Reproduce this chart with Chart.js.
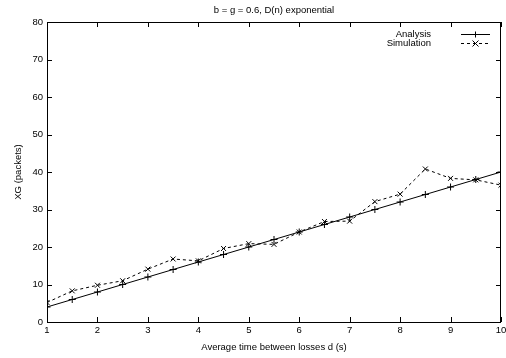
<!DOCTYPE html>
<html>
<head>
<meta charset="utf-8">
<script src="https://cdn.jsdelivr.net/npm/chart.js@4"></script>
<style>
  html, body { margin: 0; padding: 0; background: #fff; }
  #wrap { width: 506px; height: 358px; }
</style>
</head>
<body>
<div id="wrap"><canvas id="myChart" width="506" height="358"></canvas></div>
<script>
// x values: average time between losses d (s)
const dValues = [1, 1.5, 2, 2.5, 3, 3.5, 4, 4.5, 5, 5.5, 6, 6.5, 7, 7.5, 8, 8.5, 9, 9.5, 10];
const analysis = [4, 6, 8, 10, 12, 14, 16, 18, 20, 22, 24, 26, 28, 30, 32, 34, 36, 38, 40];
const simulation = [5.2, 8.3, 9.8, 11.0, 14.1, 16.8, 16.3, 19.6, 20.9, 20.7, 24.0, 26.8, 26.9, 32.1, 34.1, 40.8, 38.3, 37.9, 36.5];
const xTicks = [1, 2, 3, 4, 5, 6, 7, 8, 9, 10];
const yTicks = [0, 10, 20, 30, 40, 50, 60, 70, 80];
const seriesNames = ['Analysis', 'Simulation'];
const chartTitle = 'b = g = 0.6, D(n) exponential';

const FONT = 'Liberation Sans, Arial, Helvetica, sans-serif';
const FSIZE = 9.5;

const toPoints = (ys) => dValues.map((x, i) => ({ x: x, y: ys[i] }));

// gnuplot-ish frame: box border, inward ticks on all four sides, title + legend
const framePlugin = {
    id: 'frame',
    afterDatasetsDraw(chart) {
        const { ctx, chartArea: a, scales } = chart;
        ctx.save();
        ctx.strokeStyle = '#000';
        ctx.lineWidth = 1;
        ctx.beginPath();
        xTicks.forEach(v => {
            const px = Math.round(scales.x.getPixelForValue(v)) + 0.5;
            ctx.moveTo(px, a.bottom); ctx.lineTo(px, a.bottom - 5);
            ctx.moveTo(px, a.top); ctx.lineTo(px, a.top + 5);
        });
        yTicks.forEach(v => {
            const py = Math.round(scales.y.getPixelForValue(v)) + 0.5;
            ctx.moveTo(a.left, py); ctx.lineTo(a.left + 5, py);
            ctx.moveTo(a.right, py); ctx.lineTo(a.right - 5, py);
        });
        ctx.stroke();
        ctx.strokeRect(Math.round(a.left) + 0.5, Math.round(a.top) + 0.5,
            Math.round(a.right - a.left) - 1, Math.round(a.bottom - a.top));

        ctx.font = FSIZE + 'px ' + FONT;
        ctx.fillStyle = '#000';
        ctx.textBaseline = 'middle';

        // title, centred over the plot area
        ctx.textAlign = 'center';
        ctx.fillText(chartTitle, (a.left + a.right) / 2, 10);

        // legend
        ctx.textAlign = 'right';
        const rows = [34, 43];
        chart.data.datasets.forEach((ds, i) => {
            const y = rows[i] + 0.5;
            ctx.fillText(seriesNames[i], 431, rows[i]);
            ctx.beginPath();
            ctx.setLineDash(ds.borderDash || []);
            ctx.moveTo(461, y); ctx.lineTo(490, y);
            ctx.stroke();
            ctx.setLineDash([]);
            ctx.beginPath();
            const cx = 475.5, r = 3;
            if (ds.pointStyle === 'cross') {
                ctx.moveTo(cx - r, y); ctx.lineTo(cx + r, y);
                ctx.moveTo(cx, y - r); ctx.lineTo(cx, y + r);
            } else {
                ctx.moveTo(cx - r, y - r); ctx.lineTo(cx + r, y + r);
                ctx.moveTo(cx - r, y + r); ctx.lineTo(cx + r, y - r);
            }
            ctx.stroke();
        });
        ctx.restore();
    }
};

const ctx = document.getElementById('myChart').getContext('2d');
const myChart = new Chart(ctx, {
    type: 'line',
    data: {
        datasets: [{
            label: seriesNames[0],
            data: toPoints(analysis),
            borderColor: '#000',
            borderWidth: 1,
            pointStyle: 'cross',
            pointRadius: 3.5,
            pointBorderColor: '#000',
            pointBorderWidth: 1,
            fill: false,
            tension: 0
        }, {
            label: seriesNames[1],
            data: toPoints(simulation),
            borderColor: '#000',
            borderWidth: 1,
            borderDash: [3, 3],
            pointStyle: 'crossRot',
            pointRadius: 3.5,
            pointBorderColor: '#000',
            pointBorderWidth: 1,
            fill: false,
            tension: 0
        }]
    },
    options: {
        responsive: false,
        animation: false,
        layout: { padding: { left: 0, right: 4, top: 22, bottom: 0 } },
        plugins: {
            legend: { display: false },
            tooltip: { enabled: false },
            title: { display: false }
        },
        scales: {
            x: {
                type: 'linear',
                min: 1,
                max: 10,
                afterFit: (s) => { s.height = 36; s.paddingLeft = 0; s.paddingRight = 0; },
                afterBuildTicks: (s) => { s.ticks = xTicks.map(v => ({ value: v })); },
                grid: { display: false, drawTicks: false },
                border: { display: false },
                ticks: {
                    color: '#000',
                    padding: 3,
                    maxRotation: 0,
                    font: { family: FONT, size: FSIZE }
                },
                title: {
                    display: true,
                    text: 'Average time between losses d (s)',
                    color: '#000',
                    font: { family: FONT, size: FSIZE },
                    padding: { top: 0, bottom: 5 }
                }
            },
            y: {
                type: 'linear',
                min: 0,
                max: 80,
                afterFit: (s) => { s.width = 47; s.paddingTop = 0; s.paddingBottom = 0; },
                afterBuildTicks: (s) => { s.ticks = yTicks.map(v => ({ value: v })); },
                grid: { display: false, drawTicks: false },
                border: { display: false },
                ticks: {
                    color: '#000',
                    padding: 4,
                    font: { family: FONT, size: FSIZE }
                },
                title: {
                    display: true,
                    text: 'XG (packets)',
                    color: '#000',
                    font: { family: FONT, size: FSIZE },
                    padding: { top: 13, bottom: 0 }
                }
            }
        }
    },
    plugins: [framePlugin]
});
</script>
</body>
</html>
